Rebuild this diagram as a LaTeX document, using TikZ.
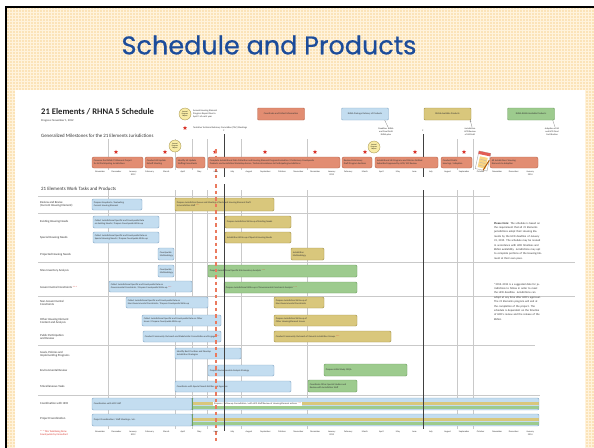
\documentclass[tikz,border=0pt]{standalone}
\usepackage{fontspec}
\setmainfont{Carlito}
\newfontfamily\ttlfont[FakeBold=0.6]{Poppins}
\usetikzlibrary{patterns,shapes.geometric,arrows.meta}
\definecolor{cream}{HTML}{FBE3B8}
\definecolor{creamline}{HTML}{FFF3DC}
\definecolor{ttl}{HTML}{1C4C9A}
\definecolor{orf}{HTML}{E28D72}
\definecolor{ord}{HTML}{B9664D}
\definecolor{blf}{HTML}{C3DDF0}
\definecolor{bld}{HTML}{86A9C6}
\definecolor{khf}{HTML}{D9C77C}
\definecolor{khd}{HTML}{A2924C}
\definecolor{grf}{HTML}{9DCB8E}
\definecolor{grd}{HTML}{6F9E62}
\definecolor{gridc}{HTML}{C9C9C9}
\definecolor{stred}{HTML}{D9342B}
\definecolor{dashred}{HTML}{EA7A5E}
\definecolor{yc}{HTML}{F8EBA5}
\definecolor{txt}{HTML}{333333}
\newcommand\redstars{\textcolor{stred}{***}}
\newcommand\gbar[7]{%
  \draw[#1] (#2,#3) rectangle (#4,#5);
  \node[btxt] (#6) at ({#2+1.6},{(#3+#5)/2}) {#7};}
\tikzset{
  tiny/.style={font=\fontsize{2.4}{2.8}\selectfont, text=txt, inner sep=0},
  btxt/.style={tiny, anchor=west, align=left},
  tlab/.style={anchor=west, align=left, inner sep=0, text=txt, font=\fontsize{3}{3.5}\selectfont},
  mlab/.style={align=center, anchor=north, inner sep=0, text=txt, font=\fontsize{2.3}{2.7}\selectfont},
  barb/.style={rounded corners=1.2pt, line width=0.45pt},
  bluebar/.style={barb, fill=blf, draw=bld},
  khbar/.style={barb, fill=khf, draw=khd},
  grbar/.style={barb, fill=grf, draw=grd},
  msbox/.style={rounded corners=2pt, fill=orf, draw=ord, line width=0.45pt},
  legbox/.style={rounded corners=1pt, line width=0.45pt, minimum width=47pt, minimum height=12pt, inner sep=0, align=center, font=\fontsize{2.4}{2.8}\selectfont, text=txt},
  mstar/.style={star, star points=5, star point ratio=2.3, fill=stred, minimum size=4.5pt, inner sep=0},
  ycirc/.style={circle, fill=yc, draw=khd, line width=0.3pt, minimum size=12pt, inner sep=0, align=center, font=\fontsize{1.8}{2.1}\selectfont},
  gline/.style={gridc, line width=0.45pt},
  bline/.style={black!75, line width=0.8pt},
  hline/.style={gridc, line width=0.45pt},
  redline/.style={dashred, line width=1.3pt, dash pattern=on 3.5pt off 3pt},
  note/.style={anchor=north west, align=left, inner sep=0, text width=48pt, text=txt, font=\fontsize{2.8}{4.4}\selectfont}
}
\begin{document}
\begin{tikzpicture}[x=1pt,y=-1pt]
\useasboundingbox (0,0) rectangle (594,447);
\clip (0,0) rectangle (594,447);
% slide background
\fill[white] (0,0) rectangle (594,447);
\fill[cream] (6,7) rectangle (602,462);
\fill[pattern=grid, pattern color=creamline] (6,7) rectangle (602,462);
\draw[black, line width=2.6pt] (6,7) rectangle (602,462);
\fill[white] (15,90) rectangle (585,462);
% title
\node[font=\ttlfont\fontsize{25.5}{25.5}\selectfont, text=ttl] (title) at (269,45) {Schedule and Products};

% heading and legend
\node[anchor=west, inner sep=0, font=\bfseries\fontsize{8.6}{9}\selectfont, text=black!85] (hdr) at (41,112) {21 Elements / RHNA 5 Schedule};
\node[anchor=west, inner sep=0, font=\fontsize{2.8}{3}\selectfont, text=txt] (prog) at (41,121) {Progress: November 1, 2012};
\node[ycirc] (lgc) at (185,114) {Annual\\Progress\\Report};
\node[tiny, anchor=west, align=left] (lgct) at (193,114) {Annual Housing Element\\Progress Report Due to\\April 1 of each year};
\node[mstar] (lgs) at (185,128) {};
\node[tiny, anchor=west] (lgst) at (193,127.5) {Tentative Technical Advisory Committee (TAC) Meetings};
\node[legbox, fill=orf, draw=ord] (lo) at (281,114) {Coordinate and Collect Information};
\node[legbox, fill=blf, draw=bld] (lb) at (365,114) {RHNA Package Delivery of Products};
\node[legbox, fill=khf, draw=khd] (lk) at (447.5,114) {RHNA Available Products};
\node[legbox, fill=grf, draw=grd] (lg) at (531,114) {RHNA RHNA Available Products};
\coordinate (cb) at (388,127);
\coordinate (ck) at (472,127);
\coordinate (cg) at (555,127);
\draw[gray, line width=0.3pt] ([xshift=-4pt]lb.south east) -- (cb);
\draw[gray, line width=0.3pt, -{Stealth[length=1.5pt,width=1.5pt]}] (ck) -- ([xshift=-1pt]lk.south east);
\draw[gray, line width=0.3pt] ([xshift=-2pt]lg.south east) -- (cg);
\node[mlab] (cbt) at (386,128) {Deadline: RHNA\\and Final Draft\\RHNA plan};
\node[mlab] (ckt) at (470,128) {Jurisdiction\\HCD Review\\of HE Draft};
\node[mlab] (cgt) at (552,128) {Adoption of HE\\and HCD Final\\Certification};

% milestones
\node[anchor=west, inner sep=0, font=\fontsize{4.9}{5}\selectfont, text=black!80] (msh) at (41,136) {Generalized Milestones for the 21 Elements Jurisdictions};
\foreach \x in {108,175,192,207,241,307,457,473} \draw[gline] (\x,139) -- (\x,170);
\node[tiny] (f1) at (224,131) {F};
\node[tiny] (f2) at (423,131) {F};
\draw[bline] (224,134) -- (224,177);
\draw[bline] (423,134) -- (423,177);
\foreach \x [count=\i] in {116,165,215,265,315,365,415,464} \node[mstar] (s\i) at (\x,152) {};
\node[ycirc] (yc1) at (175,146) {Annual\\Progress\\Report};
\node[ycirc] (yc2) at (374,147) {Annual\\Progress\\Report};
% red dashed line (today)
\draw[redline] (216,149) -- (216,178);
\gbar{msbox}{92}{157}{143}{168}{m1}{Convene the RHNA/21 Element Project\\for All Participating Jurisdictions}
\gbar{msbox}{145}{157}{173}{168}{m2}{Conduct HE Update\\Kickoff Meeting}
\gbar{msbox}{176}{157}{205}{168}{m3}{Identify HE Update\\Staffing Consultants}
\gbar{msbox}{208}{157}{340}{168}{m4}{Complete Jurisdictional Data Collection and Housing Element Program Evaluation / Preliminary Countywide\\Products and Jurisdiction Workshop Series / Technical Assistance to Participating Jurisdictions}
\gbar{msbox}{342}{157}{372}{168}{m5}{Review Preliminary\\Draft Program Sections}
\gbar{msbox}{375}{157}{438}{168}{m6}{Jurisdictional HE Programs and Policies Drafted\\Submitted Approved by HCD; TAC Review}
\gbar{msbox}{441}{157}{472}{168}{m7}{Conduct Public\\Hearings / Adoption}
\gbar{msbox}{490}{157}{538}{168}{m8}{All Jurisdictions' Housing\\Elements to Adoption}
% calendar icon
\begin{scope}[shift={(483,161)}, rotate=-12]
  \draw[fill=white, draw=gray!70, line width=0.4pt] (-6,-9) rectangle (6,9);
  \fill[stred!80] (-6,-9) rectangle (6,-6);
  \fill[yc!80!orange] (-4,-4) rectangle (4,7);
  \draw[gray!60, line width=0.3pt] (-3,-1) -- (3,-1) (-3,2) -- (3,2) (-3,5) -- (3,5);
  \draw[orange!70!black, line width=1pt] (2,9) -- (6,-2);
\end{scope}
\foreach \n [count=\i from 0] in {November,December,{January\\2012},February,March,April,May,June,July,August,September,October,November,December,{January\\2013},February,March,April,May,June,July,August,September,October,November,December,{January\\2014}}
  \node[mlab] (ma\i) at ({100+16.55*\i},171) {\n};

% work tasks
\node[anchor=west, inner sep=0, font=\fontsize{4.9}{5}\selectfont, text=black!80] (wth) at (41,189) {21 Elements Work Tasks and Products};
\foreach \x in {108,175,192,207,241,307,457,473} \draw[gline] (\x,190) -- (\x,429);
\draw[hline] (38,196.5) -- (490,196.5);
\draw[hline] (38,213) -- (490,213);
\draw[hline] (38,262) -- (575,262);
\draw[hline] (38,296) -- (575,296);
\draw[hline] (38,345) -- (535,345);
\draw[hline] (38,395) -- (540,395);

\node[tlab] (t1) at (40,204) {Review and Revise\\(Current Housing Element)};
\node[tlab] (t2) at (40,222) {Existing Housing Needs};
\node[tlab] (t3) at (40,238) {Special Housing Needs};
\node[tlab] (t4) at (40,254.5) {Projected Housing Needs};
\node[tlab] (t5) at (40,271) {Sites Inventory Analysis};
\node[tlab] (t6) at (40,287) {Governmental Constraints \redstars};
\node[tlab] (t7) at (40,303) {Non-Governmental\\Constraints};
\node[tlab] (t8) at (40,321) {Other Housing Element\\Content and Analysis};
\node[tlab] (t9) at (40,337) {Public Participation\\and Review};
\node[tlab] (t10) at (40,354) {Goals, Policies and\\Implementing Programs};
\node[tlab] (t11) at (40,370) {Environmental Review};
\node[tlab] (t12) at (40,386) {Miscellaneous Tasks};
\node[tlab] (t13) at (40,403) {Coordination with HCD};
\node[tlab] (t14) at (40,419) {Project Coordination};
\node[tlab, text=stred, font=\fontsize{2.6}{3}\selectfont] (t15) at (40,433) {*** This Task Being Done\\Countywide by Consultant};

\gbar{bluebar}{92}{199}{142}{210}{b1}{Prepare Snapshots / Evaluating\\Current Housing Element}
\gbar{khbar}{175}{198}{274}{211}{k1}{Prepare Jurisdiction Queue and Meeting of Facts and Housing Element Draft\\to Jurisdiction Staff \redstars}
\gbar{bluebar}{93}{216}{159}{228}{b2}{Collect Jurisdictional Specific and Countywide Data\\on Existing Needs / Prepare Countywide Write-up}
\gbar{khbar}{225}{216}{291}{228}{k2}{Prepare Jurisdiction Write-up of Existing Needs}
\gbar{bluebar}{93}{232}{159}{243}{b3}{Collect Jurisdictional Specific and Countywide Data on\\Special Housing Needs / Prepare Countywide Write-up}
\gbar{khbar}{225}{232}{291}{243}{k3}{Jurisdiction Write-up of Special Housing Needs}
\gbar{bluebar}{158}{248}{174}{260}{b4}{Countywide\\Methodology}
\gbar{khbar}{291}{248}{324}{260}{k4}{Jurisdiction\\Methodology}
\gbar{bluebar}{158}{265}{174}{277}{b5}{Countywide\\Methodology}
\gbar{grbar}{208}{265}{357}{277}{g5}{Prepare Jurisdictional Specific Site Inventory Analysis \redstars}
\gbar{bluebar}{109}{281}{192}{292}{b6}{Collect Jurisdictional Specific and Countywide Data on\\Governmental Constraints / Prepare Countywide Write-up \redstars}
\gbar{grbar}{224}{282}{357}{293}{g6}{Prepare Jurisdictional Write-up of Governmental Constraints Analysis \redstars}
\gbar{bluebar}{126}{297}{208}{308}{b7}{Collect Jurisdictional Specific and Countywide Data on\\Non-Governmental Constraints / Prepare Countywide Write-up}
\gbar{khbar}{274}{297}{324}{308}{k7}{Prepare Jurisdiction Write-up of\\Non-Governmental Constraints}
\gbar{bluebar}{142}{315}{221}{326}{b8}{Collect Jurisdictional Specific and Countywide Data on Other\\Issues / Prepare Countywide Write-up}
\gbar{khbar}{274}{315}{357}{326}{k8}{Prepare Jurisdiction Write-up of\\Other Housing Element Issues}
\gbar{bluebar}{143}{331}{221}{342}{b9}{Conduct Community Outreach and Stakeholder Consultation and Engage \redstars}
\gbar{khbar}{274}{331}{391}{342}{k9}{Conduct Community Outreach of General Jurisdiction Groups \redstars}
\gbar{bluebar}{175}{348}{241}{359}{b10}{Identify Best Practices and Develop\\Jurisdiction Strategies}
\gbar{bluebar}{208}{365}{274}{376}{b11}{Prepare Environmental Analysis Strategy}
\gbar{grbar}{324}{364}{407}{376}{g11}{Prepare Initial Study CEQA}
\gbar{bluebar}{175}{381}{291}{392}{b12}{Coordinate with Special Needs Entities and Agencies}
\gbar{grbar}{308}{380}{357}{392}{g12}{Coordinate Other Special Studies and\\Review with Jurisdiction Staff}
% coordination rows
\gbar{bluebar}{92}{398}{192}{410}{b13}{Coordination with HCD Staff}
\fill[blf] (192,398) rectangle (539,410);
\fill[khf] (192,401.5) rectangle (539,405);
\fill[grf] (192,405.8) rectangle (539,409.3);
\draw[barb, draw=bld] (192,398) rectangle (539,410);
\draw[grd, line width=0.6pt] (192,398) -- (192,410);
\node[fill=white, tiny, anchor=west, inner xsep=1pt, inner ysep=0.8pt] (h13) at (213,404) {Prepare / Follow-up Consultation / with HCD Staff Review of Housing Element actions \redstars};
\gbar{bluebar}{92}{414}{192}{426}{b14}{Project Coordination / Staff Meetings / etc.}
\fill[blf] (192,414) rectangle (539,426);
\fill[khf] (192,417.5) rectangle (539,421);
\fill[grf] (192,421.8) rectangle (539,425.3);
\draw[barb, draw=bld] (192,414) rectangle (539,426);
\draw[grd, line width=0.6pt] (192,414) -- (192,426);
% red dashed over bars, black lines
\draw[redline] (216,184) -- (216,441);
\draw[bline] (224,184) -- (224,431);
\draw[bline] (423,190) -- (423,429);
\foreach \n [count=\i from 0] in {November,December,{January\\2012},February,March,April,May,June,July,August,September,October,November,December,{January\\2013},February,March,April,May,June,July,August,September,October,November,December,{January\\2014}}
  \node[mlab] (mb\i) at ({100+16.55*\i},431) {\n};

% notes
\node[note] (n1) at (494,222) {\textbf{Please Note:} The schedule is based on the requirement that all 21 Elements jurisdictions adopt their Housing Elements by the HCD deadline of January 31, 2015. The schedule may be revised in accordance with HCD timelines and RHNA availability. Jurisdictions may opt to complete portions of the Housing Element at their own pace.};
\node[note] (n2) at (494,283) {*2013--2014 is a suggested date for jurisdictions to follow in order to meet the HCD deadline. Jurisdictions can adopt at any time after HCD's approval. The 21 Elements program will end at the completion of the project. The schedule is dependent on the timeline of HCD's review and the release of the RHNA.};
\end{tikzpicture}
\end{document}
